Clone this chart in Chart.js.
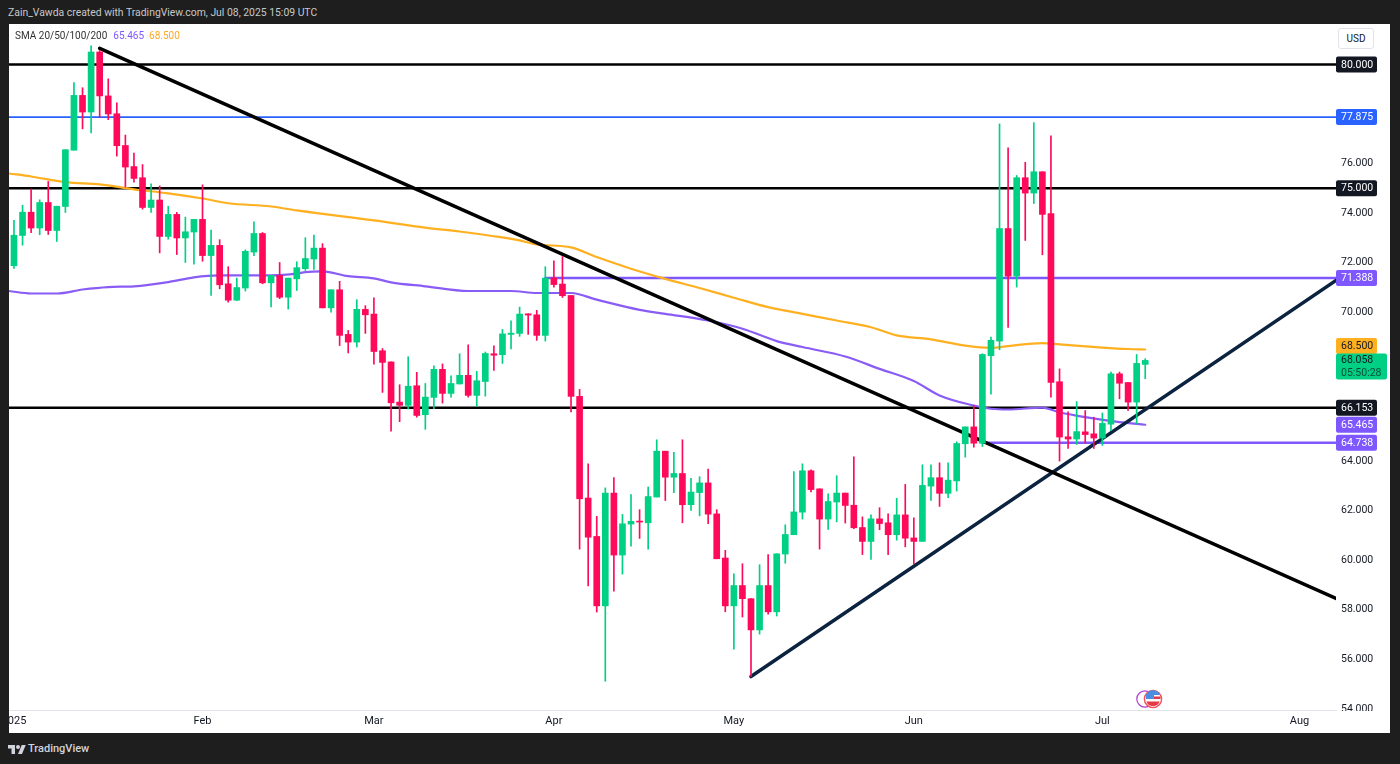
<!DOCTYPE html>
<html><head><meta charset="utf-8">
<style>
html,body{margin:0;padding:0;background:#1e1e1e;width:1400px;height:764px;overflow:hidden;font-family:Roboto,sans-serif}
#head{position:absolute;left:8px;top:5px;font-size:10.4px;line-height:15px;color:#c8c8c8;white-space:nowrap}
#wrap{position:absolute;left:9px;top:24px;width:1381px;height:709px;background:#fff}
canvas{display:block}
#sma{position:absolute;left:6px;top:4px;font-size:10px;line-height:15px;color:#333;white-space:nowrap}
#sma .a{color:#7e57ff;margin-left:6px}#sma .b{color:#ffa726;margin-left:5px}
#usd{position:absolute;left:1329px;top:4px;width:34px;height:19px;border:1px solid #e0e3eb;border-radius:3px;font-size:10px;line-height:19px;text-align:center;color:#131722;background:#fff}
#foot{position:absolute;left:28px;top:740px;font-size:11px;font-weight:500;line-height:17px;color:#d1d4dc}
#logo{position:absolute;left:8px;top:742px;width:18px;height:14px}
#ev{position:absolute;left:1136px;top:689px;width:28px;height:20px}
</style></head><body>
<div id="head">Zain_Vawda created with TradingView.com, Jul 08, 2025 15:09 UTC</div>
<div id="wrap">
<canvas id="c" width="1381" height="709" style="width:1381px;height:709px"></canvas>
<div id="sma">SMA 20/50/100/200<span class="a">65.465</span><span class="b">68.500</span></div>
<div id="usd">USD</div>
</div>
<svg id="logo" viewBox="0 0 36 28"><path fill="#d1d4dc" d="M14 24H7V13H0V6h14v18zM28 24h-8l7.5-18h8L28 24z"/><circle fill="#d1d4dc" cx="20" cy="10" r="4"/></svg>
<div id="foot">TradingView</div>
<svg id="ev" viewBox="0 0 28 20">
<circle cx="9" cy="10" r="8.2" fill="#fff" stroke="#b03ad0" stroke-width="1.2"/>
<circle cx="17" cy="10" r="8.6" fill="#fff" stroke="#f4505f" stroke-width="1.4"/>
<path d="M10 6a7.5 7.5 0 0 1 14 0v0H10z" fill="#4a90e2"/>
<rect x="10" y="6" width="8" height="4" fill="#4a90e2"/><rect x="18" y="7.5" width="6.5" height="2.5" fill="#e53945"/>
<path d="M10.4 12.5h13.2a7 7 0 0 1-13.2 0z" fill="#e53945"/>
</svg>
<script src="https://cdn.jsdelivr.net/npm/chart.js@4"></script>
<script>
const opens=[71.88,73.10,74.04,73.40,74.43,73.30,74.27,76.54,78.75,78.08,
80.50,78.73,78.01,76.73,75.88,75.43,74.23,74.53,73.06,73.95,
73.00,73.24,73.75,72.29,72.70,71.15,70.49,70.98,72.43,73.18,
71.19,71.49,70.61,71.35,71.76,72.15,72.59,70.18,70.91,69.11,
68.80,70.12,69.93,68.45,68.00,66.38,66.25,67.04,65.87,66.57,
67.70,66.73,67.11,67.46,66.65,67.21,68.33,68.29,69.11,69.15,
69.94,69.90,69.07,71.39,71.14,70.68,66.61,62.51,60.96,58.16,
62.71,60.21,61.46,61.58,61.51,62.55,64.40,63.35,63.50,62.24,
62.73,63.12,61.87,60.09,58.16,58.98,58.45,57.19,58.98,57.92,
60.25,61.03,61.94,63.61,62.88,61.66,62.35,62.71,62.22,61.32,
60.76,61.67,61.51,61.03,61.83,60.90,60.76,62.99,63.33,62.70,
63.20,64.70,65.38,64.72,68.25,68.84,73.38,71.46,75.43,74.81,
75.67,73.98,67.20,64.98,64.89,65.18,65.10,64.93,65.49,67.52,
67.17,66.38,67.90];
const closes=[73.11,74.04,73.40,74.43,73.30,74.28,76.56,78.75,78.08,80.50,
78.73,78.00,76.72,75.86,75.40,74.23,74.53,73.06,73.95,73.00,
73.25,73.75,72.29,72.70,71.11,70.49,71.00,72.46,73.18,71.19,
71.49,70.61,71.38,71.80,72.17,72.59,70.18,70.91,69.07,68.80,
70.12,69.90,68.42,67.98,66.35,66.25,67.02,65.84,66.58,67.70,
66.73,67.13,67.46,66.65,67.24,68.34,68.27,69.13,69.16,69.93,
69.89,69.07,71.38,71.12,70.67,66.61,62.48,60.93,58.16,62.71,
60.21,61.47,61.57,61.54,62.57,64.40,63.35,63.50,62.24,62.75,
63.12,61.86,60.06,58.16,58.98,58.45,57.19,58.98,57.92,60.26,
61.04,61.95,63.61,62.85,61.66,62.37,62.71,62.21,61.31,60.76,
61.67,61.48,61.03,61.83,60.89,60.76,63.02,63.33,62.70,63.23,
64.71,65.38,64.72,68.30,68.87,73.38,71.46,75.43,74.81,75.67,
73.95,67.17,64.97,64.89,65.19,65.07,64.93,65.52,67.52,67.14,
66.38,67.94,68.06];
const highs=[73.71,74.32,74.97,74.54,75.28,74.28,76.56,79.27,79.06,80.75,
80.56,79.42,78.45,77.15,76.42,75.96,75.18,75.10,74.28,74.03,
73.84,73.75,75.14,73.32,72.93,71.84,71.38,72.52,73.65,73.22,
71.49,72.01,71.38,72.04,73.01,73.12,72.77,70.91,71.25,69.27,
70.51,70.27,70.59,68.54,68.00,67.08,68.21,67.58,67.13,67.84,
67.92,67.44,68.33,68.69,67.62,68.40,68.65,69.31,69.66,70.21,
69.94,70.08,71.84,72.08,72.25,70.68,66.89,63.89,61.77,62.92,
63.33,61.85,62.65,62.04,62.95,64.86,64.40,64.35,64.86,63.30,
63.37,63.68,62.04,60.40,59.45,59.86,58.45,59.82,60.23,60.26,
61.43,63.58,63.89,63.65,62.88,62.68,63.41,62.71,64.17,61.75,
61.83,62.12,61.87,62.50,63.06,61.71,63.85,63.85,63.93,63.93,
64.78,65.38,66.24,68.33,69.00,77.60,76.64,75.52,76.05,77.65,
75.67,77.12,67.72,65.99,66.40,66.04,65.77,65.94,67.59,67.59,
67.17,68.30,68.13];
const lows=[71.77,72.71,73.21,73.13,73.14,72.86,74.03,76.54,77.40,77.24,
77.87,77.77,76.30,75.05,75.25,74.16,74.03,72.40,72.95,72.33,
72.01,71.94,72.06,70.68,70.95,70.41,70.47,70.86,72.29,71.15,
70.22,70.55,70.13,70.88,71.69,71.73,70.18,70.01,68.66,68.36,
68.60,69.15,67.91,66.77,65.21,65.59,66.10,65.77,65.28,66.11,
66.34,66.58,67.11,66.58,66.20,66.62,67.66,67.94,68.52,69.03,
69.11,68.87,68.84,71.02,70.60,65.98,60.45,58.96,57.91,55.12,
58.75,59.44,60.57,60.88,60.45,62.55,62.41,62.73,61.51,62.01,
61.79,61.48,60.06,57.92,56.41,57.71,55.31,57.02,57.83,57.75,
59.88,61.03,61.66,62.76,60.45,61.24,61.55,61.50,61.27,60.23,
60.03,61.23,60.23,60.81,60.54,59.86,60.76,62.41,62.17,62.52,
62.79,64.16,64.56,64.59,66.70,68.49,69.39,71.02,72.90,74.39,
72.32,66.58,64.00,64.51,64.67,64.72,64.51,64.63,65.23,66.51,
66.04,65.50,67.32];

const sma200Index=[-0.58,2,6,10,14,18,22,25,30,33,42,48,52,56,59,61,65,68,72,76,80,84,88,92,96,100,103,107,111,114,116,120,122,127,130,132];
const sma200Value=[75.60,75.48,75.25,75.16,74.96,74.80,74.59,74.40,74.27,74.11,73.71,73.42,73.26,73.07,72.90,72.74,72.62,72.23,71.76,71.35,70.98,70.59,70.21,69.94,69.67,69.40,69.07,68.91,68.66,68.57,68.64,68.76,68.71,68.58,68.52,68.50];
const sma100Index=[-0.58,2,5,8,11,14,18,21,24,30,33,34,36,39,42,44,48,53,58,61,65,68,73,76,81,85,89,92,97,101,105,108,112,114,116,120,122,125,129,132];
const sma100Value=[70.86,70.76,70.76,70.92,71.02,71.05,71.22,71.41,71.49,71.49,71.56,71.62,71.65,71.46,71.37,71.21,71.05,70.86,70.86,70.78,70.78,70.51,70.10,69.94,69.67,69.34,68.84,68.60,68.22,67.72,67.23,66.65,66.24,66.11,66.08,66.16,65.97,65.77,65.57,65.465];

const xMin=-0.58, xMax=154.26, yMin=53.96, yMax=81.63;
const hLevels=[80,77.875,75,71.388,66.153,64.738];
const hStarts=[xMin,xMin,xMin,62,xMin,113];
const hColors=['#000000','#2962ff','#000000','#7e57ff','#000000','#7e57ff'];
const hWidths=[2.5,1.6,2.5,2.5,2.5,2.5];
const trendBlackX=[10,xMax], trendBlackY=[80.65,58.46];
const trendNavyX=[86,xMax], trendNavyY=[55.31,71.29];
const xTickIndex=[0,22,42,63,84,105,127,150];
const xTickLabels=['2025','Feb','Mar','Apr','May','Jun','Jul','Aug'];
const yTickValues=[54,56,58,60,62,64,70,72,74,76];
const tagValues=[80,77.875,75,71.388,68.5,66.153,65.465,64.738];
const tagTexts=['80.000','77.875','75.000','71.388','68.500','66.153','65.465','64.738'];
const tagFill=['#131722','#2962ff','#131722','#7e57ff','#ffb020','#131722','#7e57ff','#7e57ff'];
const tagInk=['#fff','#fff','#fff','#fff','#131722','#fff','#fff','#fff'];
const tagShift=[0,0,0,0,-3.5,0,0,0];
const lastValue=68.058, lastText='68.058', lastTimer='05:50:28';

const GREEN='#00d084', RED='#ff0a5b';
const idx=opens.map((_,i)=>i);
const col=i=>closes[i]>=opens[i]?GREEN:RED;
const line=(xs,ys,color,width,order,smooth)=>({type:'line',data:xs.map((x,i)=>({x,y:ys[i]})),borderColor:color,borderWidth:width,pointRadius:0,cubicInterpolationMode:smooth?'monotone':'default',tension:0,order,borderCapStyle:'round',borderJoinStyle:'round'});

const priceTags={id:'priceTags',afterDraw(ch){
  const c=ch.ctx,ys=ch.scales.y,L=ch.chartArea.right,B=ch.chartArea.bottom;
  c.save();
  c.fillStyle='#fff';c.fillRect(L,B+1,ch.width-L,ch.height-B-1);
  c.font='10.5px Roboto';c.textBaseline='middle';c.textAlign='left';
  const box=(x,y,w,h,f)=>{c.fillStyle=f;c.beginPath();c.roundRect(x,y,w,h,2);c.fill();};
  const ly=ys.getPixelForValue(lastValue);
  tagValues.forEach((v,i)=>{
    const y=ys.getPixelForValue(v)+tagShift[i];
    box(L,y-8,41,16,tagFill[i]);
    c.fillStyle=tagInk[i];c.fillText(tagTexts[i],L+5,y+0.5);
  });
  box(L,ly-7,51,26,GREEN);
  c.fillStyle='#131722';c.fillText(lastText,L+5,ly);
  c.fillStyle='#0b4d38';c.fillText(lastTimer,L+5,ly+12.5);
  c.restore();
}};

new Chart(document.getElementById('c'),{
  type:'bar',
  plugins:[priceTags],
  data:{datasets:[
    {data:idx.map(i=>({x:i,y:[opens[i],closes[i]]})),backgroundColor:idx.map(col),barThickness:6,grouped:false,minBarLength:1,order:0},
    {data:idx.map(i=>({x:i,y:[lows[i],highs[i]]})),backgroundColor:idx.map(col),barThickness:1,grouped:false,order:1},
    line(sma200Index,sma200Value,'#ffb020',2.2,3,true),
    line(sma100Index,sma100Value,'#8a5cf6',2.2,3,true),
    ...hLevels.map((v,i)=>line([hStarts[i],xMax],[v,v],hColors[i],hWidths[i],4,false)),
    line(trendBlackX,trendBlackY,'#000000',3.5,2,false),
    line(trendNavyX,trendNavyY,'#0c2340',3.5,2,false)
  ]},
  options:{
    responsive:false,animation:false,devicePixelRatio:1,
    layout:{padding:0},
    plugins:{legend:{display:false},tooltip:{enabled:false},title:{display:false}},
    scales:{
      x:{type:'linear',min:xMin,max:xMax,offset:false,
        grid:{display:false,drawTicks:false},border:{display:true,color:'#e0e3eb'},
        ticks:{autoSkip:false,maxRotation:0,minRotation:0,padding:5,color:'#131722',font:{size:11,family:'Roboto'},
          callback:(v,i)=>xTickLabels[i]},
        afterBuildTicks:s=>{s.ticks=xTickIndex.map(value=>({value}));},
        afterFit:s=>{s.height=23;s.paddingLeft=0;s.paddingRight=0;}
      },
      y:{type:'linear',position:'right',min:yMin,max:yMax,
        grid:{display:false,drawTicks:false},border:{display:false},
        ticks:{padding:5,color:'#131722',font:{size:10.5,family:'Roboto'},
          callback:v=>Number(v).toFixed(3)},
        afterBuildTicks:s=>{s.ticks=yTickValues.map(value=>({value}));},
        afterFit:s=>{s.width=54;s.paddingTop=0;s.paddingBottom=0;}
      }
    }
  }
});
</script>
</body></html>
